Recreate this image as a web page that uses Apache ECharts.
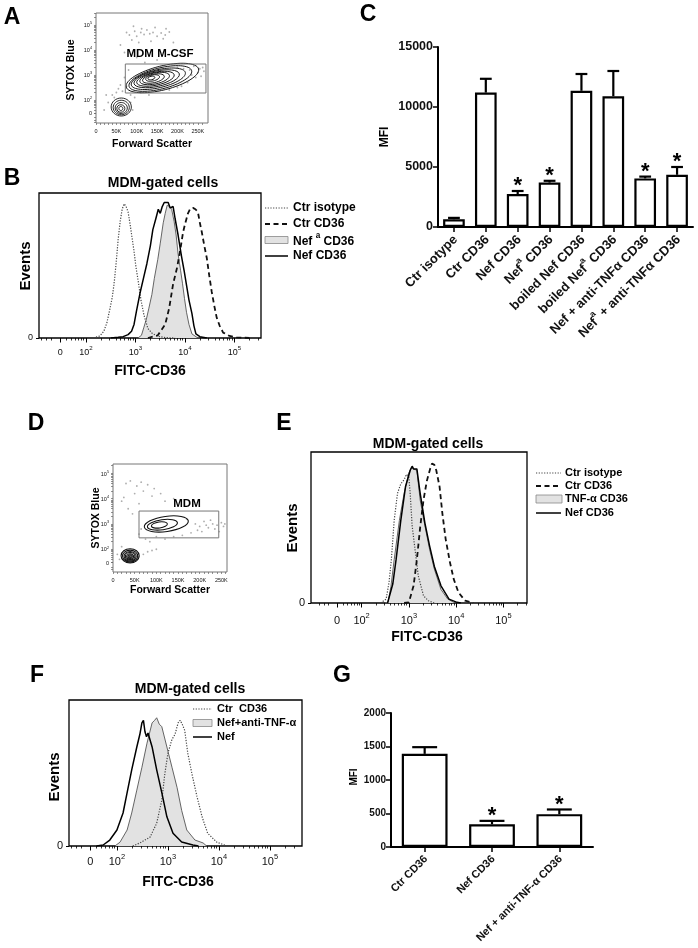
<!DOCTYPE html>
<html><head><meta charset="utf-8">
<script src="https://cdn.jsdelivr.net/npm/echarts@6/dist/echarts.min.js"></script>
<style>html,body{margin:0;padding:0;background:#fff}#c{width:698px;height:948px}</style>
</head><body><div id="c"></div>
<script>
// ================= DATA =================
// Flow plots (A, D): x = forward scatter (K units), y = log10 position of SYTOX Blue
const fscTicks = [0, 50, 100, 150, 200, 250];
const fscLabels = ['0', '50K', '100K', '150K', '200K', '250K'];
const fscMinorTicks = [10,20,30,40,60,70,80,90,110,120,130,140,160,170,180,190,210,220,230,240,260];
const logTicks = [1.48, 2, 3, 4, 5];
const logLabels = ['0', '10^2', '10^3', '10^4', '10^5'];

// contour ellipses: [centerFSC, centerLog, radiusFSC, radiusLog, tiltDeg]
const aContours = [
  [163, 2.88, 91.6, 0.48, 14], [158, 2.86, 79.2, 0.42, 14], [153, 2.85, 68.1, 0.36, 13],
  [149, 2.85, 56.9, 0.31, 12], [146, 2.85, 47.0, 0.26, 12], [144, 2.86, 37.1, 0.22, 12],
  [141, 2.86, 27.2, 0.17, 12], [139, 2.88, 17.3, 0.12, 12], [136, 2.88, 8.7, 0.07, 12],
  [62, 1.72, 24.8, 0.36, 0], [62, 1.70, 19.8, 0.29, 0], [62, 1.68, 14.9, 0.22, 0],
  [61, 1.66, 9.9, 0.15, 0], [61, 1.66, 5.0, 0.08, 0]
];
const aGate = [[72, 2.28, 270, 3.44]];
const aDots = [
  [75,4.70],[82,4.60],[95,4.75],[100,4.55],[110,4.70],[118,4.62],[125,4.80],[132,4.65],[140,4.70],[150,4.55],
  [160,4.68],[170,4.60],[180,4.72],[88,4.40],[105,4.30],[135,4.35],[165,4.45],[60,4.20],[70,3.90],[190,4.30],
  [200,3.30],[215,3.25],[230,3.20],[240,3.35],[250,3.10],[255,3.25],[262,3.30],[245,2.90],[225,2.70],[60,2.60],
  [70,2.90],[80,3.20],[50,2.30],[55,2.45],[45,2.10],[40,2.20],[85,2.20],[95,2.10],[110,2.30],[130,2.20],
  [120,3.50],[150,3.60],[100,3.70],[180,2.40],[200,2.50],[30,1.90],[25,2.20],[90,1.60],[85,1.90],[20,1.60],
  [235,3.00],[258,2.95],[265,3.15],[210,2.55],[65,2.35],[75,2.55],[112,4.85],[145,4.90],[92,4.95],[172,4.85]
];
const dContours = [
  [123, 3.00, 51.2, 0.30, 8], [114, 2.97, 34.9, 0.20, 8], [107, 2.96, 18.6, 0.12, 8],
  [39.5, 1.74, 20.9, 0.28, 0], [39.5, 1.73, 17.5, 0.235, 0], [39.5, 1.72, 14.0, 0.19, 0],
  [39.5, 1.72, 11.0, 0.15, 0], [39.5, 1.71, 8.0, 0.11, 0], [39.5, 1.71, 5.0, 0.07, 0], [39.5, 1.71, 2.5, 0.035, 0]
];
const dGate = [[60, 2.45, 244, 3.51]];
const dDots = [
  [30,4.60],[40,4.70],[55,4.50],[65,4.65],[80,4.55],[95,4.40],[50,4.20],[70,4.30],[20,3.90],[25,4.05],
  [90,4.10],[110,4.20],[120,3.90],[140,4.00],[60,3.80],[35,3.60],[45,3.40],[190,3.00],[200,2.90],[210,3.10],
  [220,2.85],[230,3.00],[240,2.95],[250,3.05],[255,2.90],[245,2.70],[205,2.70],[180,2.65],[170,3.20],[60,2.60],
  [65,2.80],[75,2.40],[85,2.30],[100,2.50],[120,2.40],[140,2.50],[160,2.55],[60,1.70],[70,1.80],[80,1.90],
  [90,1.95],[100,2.00],[15,1.60],[10,1.80],[20,2.10],[215,2.95],[235,2.80],[225,3.15],[195,2.75],[258,3.00]
];

// Histograms: x = log10(FITC-CD36) position, y = relative events
const histTicks = [1.48, 2, 3, 4, 5];
const histTickLabels = ['0', '10^2', '10^3', '10^4', '10^5'];

const bIsotype = [[2.15,0],[2.28,1.5],[2.36,5],[2.42,11],[2.48,21],[2.53,30],[2.57,41],[2.61,56],[2.65,73],[2.69,86],[2.73,95],[2.77,99],[2.81,97],[2.85,93],[2.89,84],[2.93,74],[2.97,64],[3.01,52],[3.05,43],[3.11,28],[3.17,17],[3.25,7],[3.33,3.7],[3.43,1.5],[3.6,0.3],[3.8,0]];
const bCtrCD36 = [[3.25,0],[3.45,2],[3.6,10],[3.68,22],[3.76,40],[3.84,52],[3.90,64],[3.96,78],[4.00,84],[4.06,92],[4.10,95],[4.16,96],[4.21,95],[4.26,93],[4.30,85],[4.34,78],[4.39,68],[4.44,59],[4.49,46],[4.54,34],[4.59,24],[4.64,15],[4.70,9],[4.77,4],[4.9,1.5],[5.04,0.5],[5.3,0]];
const bNefaCD36 = [[3.05,0],[3.12,2],[3.17,8],[3.22,14],[3.27,22],[3.33,32],[3.38,44],[3.45,58],[3.50,70],[3.56,85],[3.60,92],[3.64,98],[3.66,99],[3.69,97],[3.73,95],[3.78,86],[3.82,76],[3.86,62],[3.91,50],[3.95,40],[3.99,29],[4.03,19],[4.08,10],[4.14,3],[4.24,0.5],[4.3,0]];
const bNefCD36 = [[2.5,0],[2.65,0.5],[2.75,1],[2.85,2.5],[2.92,5],[2.97,10],[3.02,20],[3.09,33],[3.16,44],[3.23,55],[3.30,68],[3.35,80],[3.41,88],[3.46,95],[3.50,92],[3.54,97],[3.58,100],[3.62,99],[3.66,100],[3.70,96],[3.76,97],[3.80,88],[3.86,76],[3.93,60],[3.98,50],[4.03,39],[4.08,28],[4.14,18],[4.18,9],[4.22,3],[4.3,1],[4.44,0]];

const eIsotype = [[2.4,0],[2.52,2.9],[2.58,15],[2.63,32],[2.69,61],[2.76,81],[2.83,88],[2.90,91],[2.95,95],[3.0,93],[3.03,80],[3.07,57],[3.14,37],[3.20,20],[3.31,5.4],[3.41,1.7],[3.54,0]];
const eCtrCD36 = [[2.9,0],[3.0,0.5],[3.10,12.7],[3.17,32],[3.24,56],[3.31,76],[3.38,90],[3.45,99],[3.49,103],[3.54,102],[3.58,98],[3.65,86],[3.71,66],[3.78,47],[3.87,30],[3.95,17.6],[4.05,7.8],[4.19,1.7],[4.36,0]];
const eTnfCD36 = [[2.5,0],[2.56,0.5],[2.62,12],[2.69,32],[2.80,61],[2.90,81],[3.0,96],[3.05,100],[3.10,99],[3.17,98],[3.24,76],[3.34,57],[3.44,39.5],[3.54,25],[3.68,10],[3.82,3],[3.95,0.5],[4.05,0]];
const eNefCD36 = [[2.55,0],[2.59,0.5],[2.66,14],[2.73,32],[2.83,61],[2.93,86],[3.03,98],[3.07,101],[3.10,99],[3.14,100],[3.17,99],[3.24,81],[3.34,59],[3.44,42],[3.54,27],[3.68,12.7],[3.85,2.9],[4.02,0.5],[4.1,0]];

const fCtrCD36 = [[2.31,0],[2.45,2.4],[2.65,7],[2.78,18],[2.88,36],[2.94,57],[3.0,73],[3.05,80],[3.08,84],[3.14,88],[3.20,97],[3.24,99],[3.28,96],[3.33,91],[3.39,73],[3.47,57],[3.57,39],[3.67,23],[3.78,10],[3.96,3],[4.16,0]];
const fNefAnti = [[1.96,0],[2.06,3],[2.20,12.6],[2.29,26],[2.39,44],[2.49,62],[2.59,81],[2.69,97],[2.74,99],[2.78,101],[2.83,96],[2.88,94],[2.98,78],[3.08,62],[3.18,46],[3.27,28],[3.37,12.6],[3.53,4.7],[3.69,2.4],[3.76,0]];
const fNef = [[1.6,0],[1.73,0.8],[1.86,4.7],[2.0,12.6],[2.12,26],[2.20,42],[2.29,60],[2.39,78],[2.45,88],[2.49,97],[2.52,99],[2.55,90],[2.58,86],[2.61,89],[2.69,78],[2.78,60],[2.88,42],[2.98,23],[3.10,10],[3.27,3.2],[3.49,0.8],[3.6,0]];

// Bar charts
const cCategories = ['Ctr isotype', 'Ctr CD36', 'Nef CD36', 'Nef^a CD36', 'boiled Nef CD36', 'boiled Nef^a CD36', 'Nef + anti-TNFα CD36', 'Nef^a + anti-TNFα CD36'];
const cMeans = [650, 11200, 2750, 3700, 11350, 10900, 4050, 4350];
const cErrTops = [760, 12350, 3000, 3850, 12750, 13000, 4200, 5000];
const cSignificant = [0, 0, 1, 1, 0, 0, 1, 1];

const gCategories = ['Ctr CD36', 'Nef CD36', 'Nef + anti-TNF-α CD36'];
const gMeans = [1390, 340, 490];
const gErrTops = [1490, 390, 560];
const gSignificant = [0, 1, 1];

// ================= HELPERS =================
const FONT = '"Liberation Sans", Arial, Helvetica, sans-serif';
function richify(lbl) {
  const parts = lbl.split(/\^(\w)/);
  let out = '';
  parts.forEach((p, i) => { if (p === '') return; out += (i % 2 ? '{s|' : '{b|') + p + '}'; });
  return out;
}
function nearestLabel(ticks, labels) {
  return function (v) {
    let k = 0, d = 1e9;
    ticks.forEach((t, i) => { const dd = Math.abs(t - v); if (dd < d) { d = dd; k = i; } });
    return richify(labels[k]);
  };
}
function richStyles(size, bold) {
  return {
    b: { fontSize: size, fontFamily: FONT, fontWeight: bold ? 'bold' : 'normal', color: '#111', lineHeight: size * 1.35, verticalAlign: 'bottom' },
    s: { fontSize: size * 0.68, fontFamily: FONT, fontWeight: bold ? 'bold' : 'normal', color: '#111', lineHeight: size * 1.35, verticalAlign: 'top' }
  };
}
const minorLogTicks = [1.1, 1.2];
[1, 2, 3, 4, 5].forEach(n => { for (let k = 2; k <= 9; k++) { const v = n + Math.log10(k); if (v < 5.6) minorLogTicks.push(+v.toFixed(3)); } });

function flowXAxis(gi, max) {
  return { type: 'value', gridIndex: gi, min: 0, max: max, position: 'bottom',
    axisLine: { show: false }, splitLine: { show: false },
    axisTick: { show: true, customValues: fscTicks.concat(fscMinorTicks), length: 2, lineStyle: { color: '#666', width: 0.7 } },
    axisLabel: { customValues: fscTicks, formatter: nearestLabel(fscTicks, fscLabels), margin: 4, rich: richStyles(5.5, false) } };
}
function flowYAxis(gi, min, max) {
  return { type: 'value', gridIndex: gi, min: min, max: max, position: 'left',
    axisLine: { show: false }, splitLine: { show: false },
    axisTick: { show: true, customValues: logTicks.concat(minorLogTicks.filter(v => v > min && v < max)), length: 2, lineStyle: { color: '#666', width: 0.7 } },
    axisLabel: { customValues: logTicks, formatter: nearestLabel(logTicks, logLabels), margin: 4, rich: richStyles(5.5, false) } };
}
function histXAxis(gi, min, max, fs, margin) {
  return { type: 'value', gridIndex: gi, min: min, max: max, position: 'bottom',
    axisLine: { show: false }, splitLine: { show: false },
    axisTick: { show: true, customValues: histTicks, length: 4.5, lineStyle: { color: '#000', width: 1 } },
    axisLabel: { customValues: histTicks, formatter: nearestLabel(histTicks, histTickLabels), margin: margin, rich: richStyles(fs, false) } };
}
function histMinorAxis(gi, min, max) {
  return { type: 'value', gridIndex: gi, min: min, max: max, position: 'bottom',
    axisLine: { show: false }, splitLine: { show: false },
    axisTick: { show: true, customValues: minorLogTicks.filter(v => v > min && v < max), length: 2.5, lineStyle: { color: '#000', width: 0.8 } },
    axisLabel: { show: false } };
}
function histYAxis(gi, max, fs) {
  return { type: 'value', gridIndex: gi, min: 0, max: max, position: 'left',
    axisLine: { show: false }, splitLine: { show: false },
    axisTick: { show: true, customValues: [0], length: 3, lineStyle: { color: '#000' } },
    axisLabel: { customValues: [0], fontSize: fs, fontFamily: FONT, color: '#111', margin: 6 } };
}
function barXAxis(gi, cats, fs) {
  return { type: 'category', gridIndex: gi, data: cats, position: 'bottom',
    axisLine: { show: true, lineStyle: { color: '#000', width: 2 } },
    axisTick: { show: true, alignWithLabel: true, length: 5, lineStyle: { color: '#000', width: 1.5 } },
    axisLabel: { interval: 0, rotate: 45, margin: 9, formatter: v => richify(v), rich: richStyles(fs, true) } };
}
function barYAxis(gi, max, interval, fs) {
  return { type: 'value', gridIndex: gi, min: 0, max: max, interval: interval, position: 'left',
    axisLine: { show: true, lineStyle: { color: '#000', width: 2 } }, splitLine: { show: false },
    axisTick: { show: true, length: 5, lineStyle: { color: '#000', width: 1.5 } },
    axisLabel: { fontSize: fs, fontWeight: 'bold', fontFamily: FONT, color: '#111', margin: 5, formatter: v => String(v) } };
}

function contourSeries(xi, yi, data, lw) {
  return { type: 'custom', xAxisIndex: xi, yAxisIndex: yi, data: data, silent: true, clip: true, z: 4,
    encode: { x: 0, y: 1 },
    renderItem: function (p, api) {
      const c = api.coord([api.value(0), api.value(1)]);
      const s = api.size([api.value(2), api.value(3)]);
      return { type: 'ellipse', x: c[0], y: c[1], rotation: api.value(4) * Math.PI / 180,
        shape: { cx: 0, cy: 0, rx: s[0], ry: s[1] },
        style: { fill: 'none', stroke: '#111', lineWidth: lw } };
    } };
}
function gateSeries(xi, yi, data) {
  return { type: 'custom', xAxisIndex: xi, yAxisIndex: yi, data: data, silent: true, z: 5,
    encode: { x: [0, 2], y: [1, 3] },
    renderItem: function (p, api) {
      const a = api.coord([api.value(0), api.value(3)]);
      const b = api.coord([api.value(2), api.value(1)]);
      return { type: 'rect', shape: { x: a[0], y: a[1], width: b[0] - a[0], height: b[1] - a[1] },
        style: { fill: 'none', stroke: '#777', lineWidth: 1 } };
    } };
}
function dotSeries(xi, yi, data) {
  return { type: 'scatter', xAxisIndex: xi, yAxisIndex: yi, data: data, symbolSize: 1.8, silent: true, z: 3,
    itemStyle: { color: '#9a9a9a' } };
}
function lineSeries(xi, yi, data, kind) {
  const base = { type: 'line', xAxisIndex: xi, yAxisIndex: yi, data: data, showSymbol: false, symbol: 'none', silent: true, clip: true };
  if (kind === 'filled') return Object.assign(base, { z: 2, lineStyle: { color: '#555', width: 0.9 }, areaStyle: { color: '#e2e2e2', opacity: 1 } });
  if (kind === 'dotted') return Object.assign(base, { z: 3, lineStyle: { color: '#444', width: 1.2, type: [1.2, 1.5] } });
  if (kind === 'dashed') return Object.assign(base, { z: 3, lineStyle: { color: '#111', width: 1.8, type: [5, 3.5] } });
  return Object.assign(base, { z: 4, lineStyle: { color: '#000', width: 1.5 } });
}
function barSeries(xi, yi, values) {
  return { type: 'bar', xAxisIndex: xi, yAxisIndex: yi, data: values, barWidth: '68%', silent: true, z: 2,
    itemStyle: { color: '#fff', borderColor: '#000', borderWidth: 2.2 } };
}
function errSeries(xi, yi, means, tops, sig, starSize) {
  return { type: 'custom', xAxisIndex: xi, yAxisIndex: yi, silent: true, z: 5,
    data: means.map((m, i) => [i, m, tops[i], sig[i]]),
    encode: { x: 0, y: 2 },
    renderItem: function (p, api) {
      const i = api.value(0);
      const b = api.coord([i, api.value(1)]);
      const t = api.coord([i, api.value(2)]);
      const band = api.size([1, 0])[0];
      const cap = band * 0.185;
      const ch = [
        { type: 'line', shape: { x1: b[0], y1: b[1], x2: t[0], y2: t[1] }, style: { stroke: '#000', lineWidth: 2.2 } },
        { type: 'line', shape: { x1: t[0] - cap, y1: t[1], x2: t[0] + cap, y2: t[1] }, style: { stroke: '#000', lineWidth: 2.2 } }
      ];
      if (api.value(3)) {
        ch.push({ type: 'text', x: t[0], y: t[1] - starSize * 0.22,
          style: { text: '*', font: 'bold ' + starSize + 'px ' + FONT, fill: '#000', align: 'center', verticalAlign: 'middle', textAlign: 'center', textVerticalAlign: 'middle' } });
      }
      return { type: 'group', children: ch };
    } };
}

// graphic helpers
function txt(x, y, text, size, opts) {
  opts = opts || {};
  return { type: 'text', x: x, y: y, rotation: opts.rot || 0, silent: true, z: 10,
    style: { text: text, font: (opts.normal ? '' : 'bold ') + size + 'px ' + FONT, fill: opts.color || '#000',
      align: opts.align || 'center', verticalAlign: 'middle', textAlign: opts.align || 'center', textVerticalAlign: 'middle' } };
}
function legLine(x1, x2, y, kind) {
  const st = { stroke: '#000', lineWidth: 1.5 };
  if (kind === 'dotted') { st.stroke = '#444'; st.lineWidth = 1.2; st.lineDash = [1.2, 1.5]; }
  if (kind === 'dashed') { st.stroke = '#111'; st.lineWidth = 1.8; st.lineDash = [5, 3.5]; }
  return { type: 'line', silent: true, z: 10, shape: { x1: x1, y1: y, x2: x2, y2: y }, style: st };
}
function legRect(x1, x2, y, h) {
  return { type: 'rect', silent: true, z: 10, shape: { x: x1, y: y - h / 2, width: x2 - x1, height: h }, style: { fill: '#e2e2e2', stroke: '#888', lineWidth: 0.8 } };
}

// ================= LAYOUT =================
const grids = [
  { left: 96, top: 13, width: 112, height: 110, show: true, borderColor: '#777', borderWidth: 1 },   // A
  { left: 39, top: 193, width: 222, height: 145, show: true, borderColor: '#000', borderWidth: 1.3 }, // B
  { left: 438, top: 47, width: 255, height: 180 },                                                    // C
  { left: 113, top: 464, width: 114, height: 108, show: true, borderColor: '#777', borderWidth: 1 },  // D
  { left: 311, top: 452, width: 216, height: 151, show: true, borderColor: '#000', borderWidth: 1.3 },// E
  { left: 69, top: 700, width: 233, height: 146, show: true, borderColor: '#000', borderWidth: 1.3 }, // F
  { left: 391, top: 713, width: 202, height: 134 }                                                    // G
];

const xAxes = [
  flowXAxis(0, 275),                   // 0 A
  histXAxis(1, 1.05, 5.535, 9, 7),     // 1 B
  histMinorAxis(1, 1.05, 5.535),       // 2 B minor
  barXAxis(2, cCategories, 13),        // 3 C
  flowXAxis(3, 263),                   // 4 D
  histXAxis(4, 0.93, 5.5, 11, 9),      // 5 E
  histMinorAxis(4, 0.93, 5.5),         // 6 E minor
  histXAxis(5, 1.06, 5.63, 11, 7),     // 7 F
  histMinorAxis(5, 1.06, 5.63),        // 8 F minor
  barXAxis(6, gCategories, 11)         // 9 G
];
const yAxes = [
  flowYAxis(0, 1.08, 5.48),          // 0 A
  histYAxis(1, 107, 9),              // 1 B
  barYAxis(2, 15000, 5000, 12.5),    // 2 C
  flowYAxis(3, 1.10, 5.37),          // 3 D
  histYAxis(4, 111.5, 11),           // 4 E
  histYAxis(5, 115, 11),             // 5 F
  barYAxis(6, 2000, 500, 10)         // 6 G
];

const series = [
  dotSeries(0, 0, aDots), contourSeries(0, 0, aContours, 0.9), gateSeries(0, 0, aGate),
  lineSeries(1, 1, bNefaCD36, 'filled'), lineSeries(1, 1, bIsotype, 'dotted'), lineSeries(1, 1, bCtrCD36, 'dashed'), lineSeries(1, 1, bNefCD36, 'solid'),
  barSeries(3, 2, cMeans), errSeries(3, 2, cMeans, cErrTops, cSignificant, 22),
  dotSeries(4, 3, dDots), contourSeries(4, 3, dContours, 1.1), gateSeries(4, 3, dGate),
  lineSeries(5, 4, eTnfCD36, 'filled'), lineSeries(5, 4, eIsotype, 'dotted'), lineSeries(5, 4, eCtrCD36, 'dashed'), lineSeries(5, 4, eNefCD36, 'solid'),
  lineSeries(7, 5, fNefAnti, 'filled'), lineSeries(7, 5, fCtrCD36, 'dotted'), lineSeries(7, 5, fNef, 'solid'),
  barSeries(9, 6, gMeans), errSeries(9, 6, gMeans, gErrTops, gSignificant, 22)
];

const graphics = [
  // panel letters
  txt(12, 18, 'A', 23), txt(12, 179, 'B', 23), txt(368, 15, 'C', 23), txt(36, 424, 'D', 23),
  txt(284, 424, 'E', 23), txt(37, 676, 'F', 23), txt(342, 676, 'G', 23),
  // A
  txt(160, 54, 'MDM M-CSF', 11.5), txt(71, 70, 'SYTOX Blue', 10.5, { rot: Math.PI / 2 }), txt(152, 144, 'Forward Scatter', 10.5),
  // B
  txt(163, 183, 'MDM-gated cells', 14), txt(26, 266, 'Events', 15, { rot: Math.PI / 2 }), txt(150, 371, 'FITC-CD36', 14),
  legLine(265, 288, 208, 'dotted'), txt(293, 208, 'Ctr isotype', 12, { align: 'left' }),
  legLine(265, 288, 224, 'dashed'), txt(293, 224, 'Ctr CD36', 12, { align: 'left' }),
  legRect(265, 288, 240, 7), { type: 'text', x: 293, y: 240, silent: true, z: 10, style: { text: '{b|Nef }{s|a}{b| CD36}', font: 'bold 12px ' + FONT, fill: '#000', align: 'left', verticalAlign: 'middle', textAlign: 'left', textVerticalAlign: 'middle', rich: richStyles(12, true) } },
  legLine(265, 288, 256, 'solid'), txt(293, 256, 'Nef CD36', 12, { align: 'left' }),
  // C
  txt(385, 137, 'MFI', 12, { rot: Math.PI / 2 }),
  // D
  txt(187, 504, 'MDM', 11.5), txt(96, 518, 'SYTOX Blue', 10.5, { rot: Math.PI / 2 }), txt(170, 590, 'Forward Scatter', 10.5),
  // E
  txt(428, 444, 'MDM-gated cells', 14), txt(293, 528, 'Events', 15, { rot: Math.PI / 2 }), txt(427, 637, 'FITC-CD36', 14),
  legLine(536, 561, 473, 'dotted'), txt(565, 473, 'Ctr isotype', 11, { align: 'left' }),
  legLine(536, 561, 486, 'dashed'), txt(565, 486, 'Ctr CD36', 11, { align: 'left' }),
  legRect(536, 562, 499, 8), txt(565, 499, 'TNF-α CD36', 11, { align: 'left' }),
  legLine(536, 561, 513, 'solid'), txt(565, 513, 'Nef CD36', 11, { align: 'left' }),
  // F
  txt(190, 689, 'MDM-gated cells', 14), txt(55, 777, 'Events', 15, { rot: Math.PI / 2 }), txt(178, 882, 'FITC-CD36', 14),
  legLine(193, 212, 709, 'dotted'), txt(217, 709, 'Ctr  CD36', 11, { align: 'left' }),
  legRect(193, 212, 723, 7), txt(217, 723, 'Nef+anti-TNF-α', 11, { align: 'left' }),
  legLine(193, 212, 737, 'solid'), txt(217, 737, 'Nef', 11, { align: 'left' }),
  // G
  txt(354, 777, 'MFI', 10, { rot: Math.PI / 2 })
];

const chart = echarts.init(document.getElementById('c'), null, { renderer: 'canvas', width: 698, height: 948 });
chart.setOption({
  backgroundColor: '#fff',
  animation: false,
  textStyle: { fontFamily: FONT },
  grid: grids,
  xAxis: xAxes,
  yAxis: yAxes,
  series: series,
  graphic: { elements: graphics }
});
</script>
</body></html>
